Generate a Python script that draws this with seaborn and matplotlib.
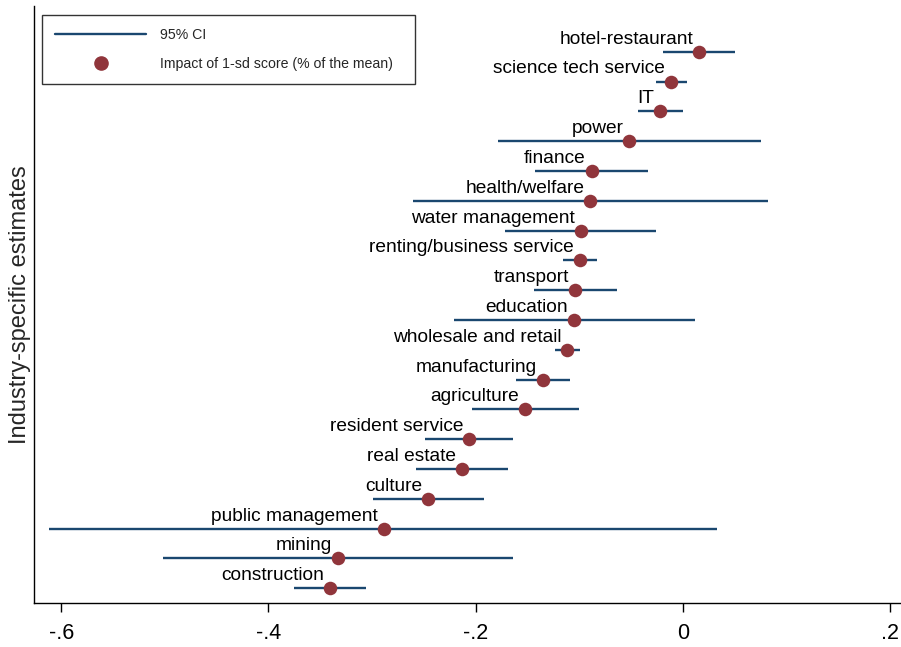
import matplotlib
matplotlib.use("Agg")
import matplotlib.pyplot as plt
from matplotlib.lines import Line2D
import seaborn as sns
import pandas as pd
import numpy as np

industries = ["hotel-restaurant", "science tech service", "IT", "power", "finance",
              "health/welfare", "water management", "renting/business service",
              "transport", "education", "wholesale and retail", "manufacturing",
              "agriculture", "resident service", "real estate", "culture",
              "public management", "mining", "construction"]
estimate = [0.0157, -0.0113, -0.0216, -0.0515, -0.0878, -0.0892, -0.0982, -0.0991,
            -0.1040, -0.1052, -0.1114, -0.1351, -0.1522, -0.2063, -0.2127, -0.2456,
            -0.2883, -0.3324, -0.3404]
ci_low = [-0.0187, -0.0260, -0.0431, -0.1783, -0.1426, -0.2606, -0.1715, -0.1155,
          -0.1436, -0.2208, -0.1236, -0.1609, -0.2037, -0.2487, -0.2574, -0.2986,
          -0.6114, -0.5014, -0.3749]
ci_high = [0.0508, 0.0039, 0.0006, 0.0756, -0.0338, 0.0823, -0.0258, -0.0830,
           -0.0637, 0.0116, -0.0988, -0.1088, -0.1004, -0.1635, -0.1683, -0.1921,
           0.0334, -0.1641, -0.3057]
xticks = [-0.6, -0.4, -0.2, 0.0, 0.2]
xticklabels = ["-.6", "-.4", "-.2", "0", ".2"]

df = pd.DataFrame({"industry": industries, "est": estimate,
                   "lo": ci_low, "hi": ci_high})
df["pos"] = np.arange(len(df))

sns.set_theme(style="white")
plt.rcParams["font.family"] = ["Liberation Sans", "DejaVu Sans"]

line_col = "#1a476f"
dot_col = "#90353b"

fig = plt.figure(figsize=(9.01, 6.47), dpi=100)
ax = fig.add_axes([34/901, 1 - 603.3/647, 866/901, 597.3/647])

ax.hlines(y=df["pos"], xmin=df["lo"], xmax=df["hi"], color=line_col,
          linewidth=1.7, zorder=2)
sns.scatterplot(data=df, x="est", y="pos", ax=ax, color=dot_col, s=95,
                edgecolor=dot_col, linewidth=0, zorder=3, legend=False)

for _, r in df.iterrows():
    ax.annotate(r["industry"], xy=(r["est"], r["pos"]), xytext=(-4.3, 5.8),
                textcoords="offset points", ha="right", va="baseline",
                fontsize=13.8, color="black")

ax.set_xlim(-0.6262, 0.2097)
ax.set_ylim(18.503, -1.533)
ax.set_xticks(xticks)
ax.set_xticklabels(xticklabels, fontsize=15.5)
ax.set_yticks([])
ax.set_xlabel("")
ax.set_ylabel("Industry-specific estimates", fontsize=17)
ax.yaxis.set_label_coords(-0.003, 0.5)

for s in ["top", "right"]:
    ax.spines[s].set_visible(False)
for s in ["left", "bottom"]:
    ax.spines[s].set_color("black")
    ax.spines[s].set_linewidth(1.0)
ax.tick_params(axis="x", bottom=True, direction="out", length=6.5, width=1.0,
               color="black", pad=7.5, labelcolor="black")

handles = [Line2D([0], [0], color=line_col, lw=1.7),
           Line2D([0], [0], marker="o", color="none", markerfacecolor=dot_col,
                  markeredgecolor=dot_col, markersize=9.5)]
labels = ["95% CI", "Impact of 1-sd score (% of the mean)"]
leg = ax.legend(handles, labels, loc="upper left",
                bbox_to_anchor=(8/866, 0.5, 373/866, (603.3-15)/597.3 - 0.5),
                mode="expand", borderaxespad=0, fontsize=10.2,
                handlelength=6.4, handletextpad=1.0, labelspacing=1.0,
                borderpad=0.95, fancybox=False, frameon=True)
leg.get_frame().set_edgecolor("black")
leg.get_frame().set_linewidth(1.0)

fig.savefig("out.png", dpi=100)
